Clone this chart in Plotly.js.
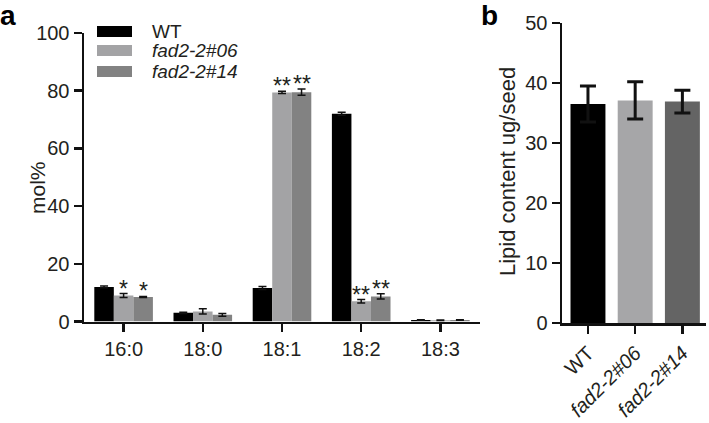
<!DOCTYPE html>
<html><head><meta charset="utf-8">
<script src="https://cdn.plot.ly/plotly-3.0.1.min.js"></script>
<style>html,body{margin:0;padding:0;background:#fff}#chart{width:709px;height:423px}</style>
</head><body><div id="chart"></div>
<script>
const fattyAcids = ['16:0','18:0','18:1','18:2','18:3'];
const genotypes = ['WT','fad2-2#06','fad2-2#14'];
const wtMol  = [12.0, 3.0, 11.6, 72.0, 0.5];
const wtErr  = [0.3, 0.2, 0.5, 0.5, 0.1];
const f06Mol = [9.0, 3.5, 79.4, 7.0, 0.4];
const f06Err = [0.7, 0.9, 0.4, 0.6, 0.1];
const f14Mol = [8.5, 2.3, 79.5, 8.7, 0.5];
const f14Err = [0.2, 0.5, 1.1, 0.9, 0.1];
const f06Sig = ['*', '', '**', '**', ''];
const f14Sig = ['*', '', '**', '**', ''];
const lipid    = [36.5, 37.1, 36.9];
const lipidErr = [3.0, 3.1, 1.9];

const colA = ['#000000', '#a3a3a5', '#828282'];
const colB = ['#000000', '#a6a6a8', '#646464'];
const TXT = '#231f20';
const FONT = 'Liberation Sans, Arial, sans-serif';
const bargapA = 0.26;
const w = (1 - bargapA) / 3;
const label = g => g === 'WT' ? g : '<i>' + g + '</i>';

function errA(arr){ return {type:'data', array:arr, visible:true, color:'#111', thickness:1.5, width:4}; }

const seriesA = [[wtMol, wtErr], [f06Mol, f06Err], [f14Mol, f14Err]];
const traces = seriesA.map((s, k) => ({
  type:'bar', x:fattyAcids, y:s[0], name:genotypes[k], showlegend:false,
  marker:{color:colA[k]}, error_y:errA(s[1]), xaxis:'x', yaxis:'y'
}));
traces.push({
  type:'bar', x:genotypes, y:lipid, showlegend:false,
  marker:{color:colB}, xaxis:'x2', yaxis:'y2',
  error_y:{type:'data', array:lipidErr, visible:true, color:'#111', thickness:3, width:8}
});

const annotations = [];
const shapes = [];
[[f06Sig, f06Mol, f06Err, 0], [f14Sig, f14Mol, f14Err, 1]].forEach(([sig, v, e, k]) => {
  sig.forEach((s, i) => {
    if (!s) return;
    annotations.push({xref:'x', yref:'y', x:i + k*w, y:v[i] + e[i], text:s, showarrow:false,
      xanchor:'center', yanchor:'bottom', yshift:-10, font:{family:FONT, size:23, color:TXT}});
  });
});
// legend (custom, wide swatches)
const legTop = [26, 45, 66];
genotypes.forEach((g, k) => {
  shapes.push({type:'rect', xref:'paper', yref:'paper', x0:97/709, x1:132/709,
    y0:1 - (legTop[k] + 11)/423, y1:1 - legTop[k]/423, fillcolor:colA[k], line:{width:0}});
  annotations.push({xref:'paper', yref:'paper', x:150/709, y:1 - (legTop[k] + 5.5)/423,
    xanchor:'left', yanchor:'middle', text:label(g), showarrow:false,
    font:{family:FONT, size:19, color:TXT}});
});
// panel letters
annotations.push({xref:'paper', yref:'paper', x:-0.003, y:1.005, xanchor:'left', yanchor:'top',
  text:'<b>a</b>', showarrow:false, font:{family:FONT, size:28, color:'#000'}});
annotations.push({xref:'paper', yref:'paper', x:479/709, y:1.005, xanchor:'left', yanchor:'top',
  text:'<b>b</b>', showarrow:false, font:{family:FONT, size:28, color:'#000'}});
// axis titles
annotations.push({xref:'paper', yref:'paper', x:37/709, y:1 - 188/423, textangle:-90,
  xanchor:'center', yanchor:'middle',
  text:'mol%', showarrow:false, font:{family:FONT, size:21, color:TXT}});
annotations.push({xref:'paper', yref:'paper', x:508/709, y:1 - 172/423, textangle:-90,
  xanchor:'center', yanchor:'middle',
  text:'Lipid content ug/seed', showarrow:false, font:{family:FONT, size:22, color:TXT}});

const ax = {showline:true, linewidth:2.5, linecolor:'#111', ticks:'outside', ticklen:8, tickwidth:2.5,
  tickcolor:'#111', showgrid:false, zeroline:false, automargin:false,
  tickfont:{family:FONT, size:20, color:TXT}};

const layout = {
  width:709, height:423, margin:{l:0, r:0, t:0, b:0},
  paper_bgcolor:'#fff', plot_bgcolor:'#fff',
  barmode:'group', bargap:bargapA, bargroupgap:0,
  showlegend:false,
  font:{family:FONT, color:TXT},
  xaxis:Object.assign({}, ax, {domain:[84/709, 480/709], anchor:'y', range:[-0.5, 4.5]}),
  yaxis:Object.assign({}, ax, {domain:[101.5/423, 390/423], anchor:'x', range:[0, 100], tickvals:[0,20,40,60,80,100]}),
  xaxis2:Object.assign({}, ax, {domain:[562/709, 706/709], anchor:'y2', range:[-0.55, 2.5],
    tickangle:-45, tickvals:genotypes, ticktext:genotypes.map(label)}),
  yaxis2:Object.assign({}, ax, {domain:[100/423, 400/423], anchor:'x2', range:[0, 50], tickvals:[0,10,20,30,40,50]}),
  annotations:annotations,
  shapes:shapes
};

Plotly.newPlot('chart', traces, layout, {staticPlot:true, displayModeBar:false});
</script></body></html>
